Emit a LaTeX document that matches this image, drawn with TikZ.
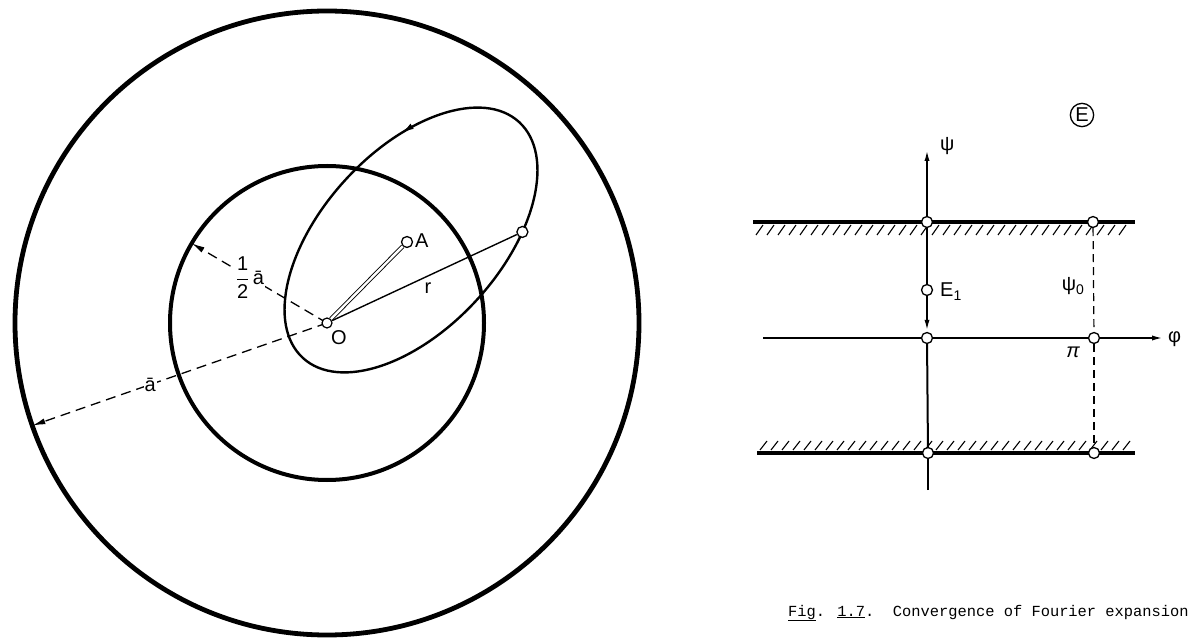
\documentclass[tikz,border=0pt]{standalone}
\usepackage{fontspec}
\setmainfont{Liberation Sans}
\newfontfamily\capfont{Liberation Mono}
\usetikzlibrary{calc, positioning, arrows.meta, decorations.markings}

\newcommand{\lowidx}[1]{\raisebox{-4pt}{\fontsize{14}{15}\selectfont #1}}

\begin{document}
\begin{tikzpicture}[x=1pt, y=1pt,
  ring/.style={draw, line width=4.8pt},
  orbit/.style={draw, line width=2.4pt},
  pt/.style={circle, draw, fill=white, line width=1.3pt, minimum size=11pt, inner sep=0pt},
  omark/.style={circle, draw, fill=white, line width=1.2pt, minimum size=10pt, inner sep=0pt,
                path picture={\fill (path picture bounding box.center) circle (2.2pt);}},
  dim/.style={dash pattern=on 10pt off 6pt, line width=1.3pt, -{Latex[length=13pt,width=6pt]}},
  lbl/.style={font=\fontsize{20}{22}\selectfont, inner sep=1pt},
  axis/.style={line width=2pt},
  wall/.style={line width=3.2pt},
  hatch/.style={line width=1.1pt},
]
\useasboundingbox (0,0) rectangle (1192,638);

% left figure: circles and orbit
\coordinate (Oc) at (327,315);
\draw[ring] (Oc) circle (312);
\draw[ring, line width=4pt] (Oc) circle (157);

\begin{scope}[shift={(411,398)}, rotate=47.5]
  \draw[orbit, postaction={decorate},
        decoration={markings, mark=at position 0.16 with {\arrow{Latex[length=14pt,width=6pt]}}}]
    (0,0) ellipse (160 and 89);
  \coordinate (Pc) at (-59.5:160 and 89);
\end{scope}

\coordinate (half) at ($(Oc)+(149.5:157)$);
\coordinate (full) at ($(Oc)+(199.2:312)$);

\draw[dim] (Oc) -- node[lbl, fill=white, pos=0.57] (halflbl) {$\displaystyle\frac{\mbox{1}}{\mbox{2}}$\,ā} (half);
\draw[dim] (Oc) -- node[lbl, fill=white, pos=0.6] (fulllbl) {ā} (full);

\node[pt] (P) at (Pc) {};
\node[pt] (A) at (407,396) {};
\node[omark] (O) at (Oc) {};
\draw[line width=1.4pt] (O) -- (P);
\draw[line width=0.9pt, double distance=2.4pt] (O) -- (A);

\node[lbl, anchor=west] (Albl) at (414,397) {A};
\node[lbl] (Olbl) at (339,300) {O};
\node[lbl] (rlbl) at (428,350) {r};

% right figure: strip
\coordinate (wl1) at (753,416);
\coordinate (wr1) at (1135,416);
\coordinate (wl2) at (757,185);
\coordinate (wr2) at (1135,185);
\draw[wall] (wl1) -- (wr1);
\draw[wall] (wl2) -- (wr2);
\foreach \x in {756,767,...,1128}
  \draw[hatch] (\x,403) -- (\x+7,413);
\foreach \x in {760,771,...,1128}
  \draw[hatch] (\x,188) -- (\x+7,197);

\node[pt] (t1) at (927,416) {};
\node[pt] (t2) at (1093,416) {};
\node[pt] (m1) at (927,300) {};
\node[pt] (m2) at (1094,300) {};
\node[pt] (b1) at (928,185) {};
\node[pt] (b2) at (1094,185) {};
\node[pt] (e1) at (927,348) {};
\coordinate (ytop) at (927,489);
\coordinate (ybot) at (928,148);
\coordinate (xl) at (763,300);
\coordinate (xr) at (1164,300);

\draw[axis, -{Latex[length=12pt,width=5pt]}] (t1) -- (ytop);
\draw[axis] (e1) -- (t1);
\draw[axis, -{Latex[length=12pt,width=5pt]}] (e1) -- (m1);
\draw[axis] (b1) -- (m1);
\draw[axis] (ybot) -- (b1);
\draw[axis] (xl) -- (m1);
\draw[axis] (m1) -- (m2);
\draw[axis, -{Latex[length=12pt,width=5pt]}] (m2) -- (xr);
\draw[line width=1.2pt, dash pattern=on 8pt off 5pt] (t2) -- (m2);
\draw[line width=1.2pt, dash pattern=on 8pt off 5pt] (m2) -- (b2);

\node[lbl, anchor=west] (psilbl) at (939,492) {ψ};
\node[lbl, anchor=west] (e1lbl) at (939,346) {E\lowidx{1}};
\node[lbl] (psi0lbl) at (1073,352) {ψ\lowidx{0}};
\node[lbl] (pilbl) at (1073,286) {\itshape π};
\node[lbl, anchor=west] (philbl) at (1167,299) {φ};
\node[lbl, circle, draw, line width=1.3pt, inner sep=1.5pt] (emark) at (1082,523) {E};

% caption
\node[anchor=base west, inner sep=0pt, font=\capfont\fontsize{15.4}{18}\selectfont] (cap) at (788,22)
  {\underline{Fig}. \underline{1.7}.\ \ Convergence of Fourier expansion};
\end{tikzpicture}
\end{document}
